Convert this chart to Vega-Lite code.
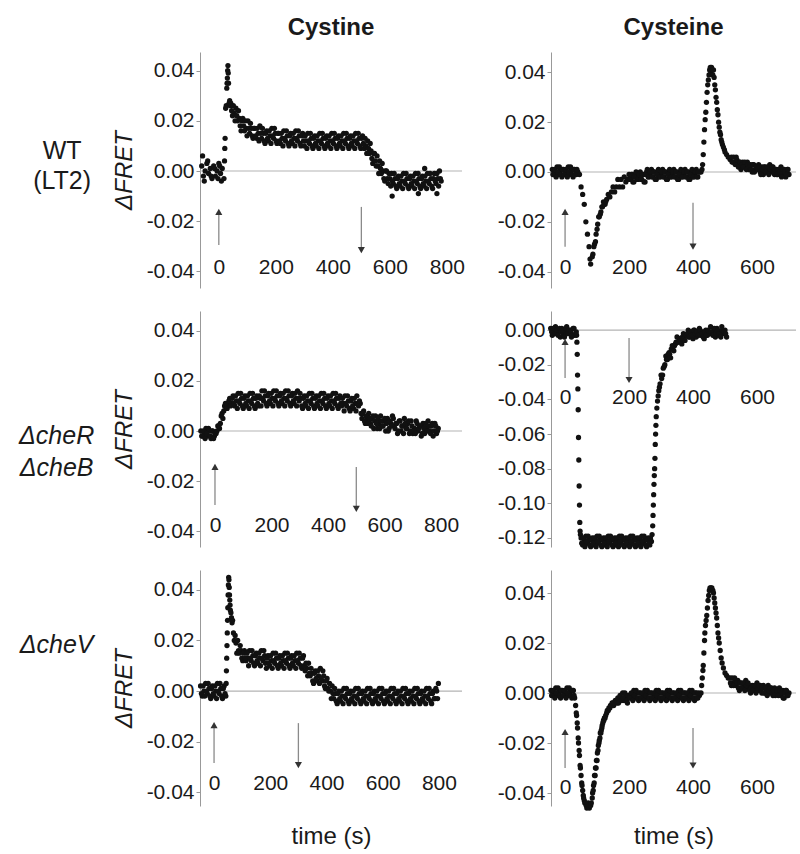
{
"$schema":"https://vega.github.io/schema/vega-lite/v6.json",
"padding":{"top":16,"left":0,"right":4,"bottom":4},
"background":"white",
"config":{
"view":{"stroke":null},
"axis":{"labelFont":"Liberation Sans","labelFontSize":21,"labelColor":"#1a1a1a","titleFont":"Liberation Sans","titleFontSize":24,"titleFontWeight":"normal","titleFontStyle":"italic","titleColor":"#1a1a1a","grid":false,"labelOverlap":false,"tickCount":12},
"title":{"font":"Liberation Sans","fontSize":24,"fontWeight":"bold","color":"#1a1a1a","anchor":"middle","baseline":"alphabetic","offset":12}
},
"datasets":{
"zero":[{"v":0}],
"arr":[
{"p":"A","t":0,"v":-0.0295,"v2":-0.0163,"dir":"up"},{"p":"A","t":500,"v":-0.0143,"v2":-0.0315,"dir":"down"},
{"p":"B","t":0,"v":-0.030,"v2":-0.016,"dir":"up"},{"p":"B","t":400,"v":-0.0124,"v2":-0.030,"dir":"down"},
{"p":"C","t":0,"v":-0.0295,"v2":-0.0143,"dir":"up"},{"p":"C","t":500,"v":-0.0143,"v2":-0.031,"dir":"down"},
{"p":"D","t":0,"v":-0.0277,"v2":-0.0069,"dir":"up"},{"p":"D","t":200,"v":-0.0046,"v2":-0.0288,"dir":"down"},
{"p":"E","t":0,"v":-0.0285,"v2":-0.0135,"dir":"up"},{"p":"E","t":300,"v":-0.0127,"v2":-0.0293,"dir":"down"},
{"p":"F","t":0,"v":-0.030,"v2":-0.0156,"dir":"up"},{"p":"F","t":400,"v":-0.014,"v2":-0.029,"dir":"down"}],
"A":[{"t":-60,"v":0.002},{"t":-57,"v":0.006},{"t":-54,"v":-0.002},{"t":-51,"v":-0.004},{"t":-48,"v":0},{"t":-42,"v":0.003},{"t":-39,"v":0.004},{"t":-36,"v":-0.001},{"t":-30,"v":0.001},{"t":-27,"v":-0.002},{"t":-24,"v":-0.003},{"t":-18,"v":0.002},{"t":-15,"v":0.001},{"t":-12,"v":-0.002},{"t":-6,"v":0},{"t":-3,"v":-0.003},{"t":0,"v":0.003},{"t":3,"v":0.002},{"t":6,"v":-0.001},{"t":9,"v":-0.004},{"t":12,"v":0.001},{"t":18,"v":-0.003},
{"t":20,"v":0.004},{"t":21,"v":0.009},{"t":22,"v":0.013},{"t":24,"v":0.025},{"t":26,"v":0.026},{"t":28,"v":0.033},{"t":29,"v":0.035},{"t":30,"v":0.037},{"t":31,"v":0.04},{"t":32,"v":0.042},{"t":33,"v":0.039},{"t":34,"v":0.035},{"t":36,"v":0.027},{"t":38,"v":0.028},{"t":40,"v":0.026},
{"t":42,"v":0.027},{"t":48,"v":0.022},{"t":54,"v":0.023},{"t":60,"v":0.025},{"t":66,"v":0.02},{"t":72,"v":0.021},{"t":78,"v":0.016},{"t":84,"v":0.021},{"t":90,"v":0.016},{"t":96,"v":0.017},{"t":102,"v":0.02},{"t":108,"v":0.015},{"t":114,"v":0.017},{"t":120,"v":0.013},{"t":126,"v":0.017},{"t":132,"v":0.013},{"t":138,"v":0.015},{"t":144,"v":0.018},{"t":150,"v":0.013},{"t":156,"v":0.015},{"t":162,"v":0.011},{"t":168,"v":0.016},{"t":174,"v":0.012},{"t":180,"v":0.014},{"t":186,"v":0.017},{"t":192,"v":0.013},{"t":198,"v":0.015},{"t":204,"v":0.011},{"t":210,"v":0.015},{"t":216,"v":0.011},{"t":222,"v":0.013},{"t":228,"v":0.016},{"t":234,"v":0.012},{"t":240,"v":0.014},{"t":246,"v":0.01},{"t":252,"v":0.015},{"t":258,"v":0.011},{"t":264,"v":0.013},{"t":270,"v":0.016},{"t":276,"v":0.012},{"t":282,"v":0.014},{"t":288,"v":0.01},{"t":294,"v":0.015},{"t":300,"v":0.01},{"t":306,"v":0.012},{"t":312,"v":0.015},{"t":318,"v":0.011},{"t":324,"v":0.013},{"t":330,"v":0.009},{"t":336,"v":0.014},{"t":342,"v":0.01},{"t":348,"v":0.012},{"t":354,"v":0.015},{"t":360,"v":0.011},{"t":366,"v":0.013},{"t":372,"v":0.009},{"t":378,"v":0.014},{"t":384,"v":0.01},{"t":390,"v":0.012},{"t":396,"v":0.015},{"t":402,"v":0.011},{"t":408,"v":0.013},{"t":414,"v":0.009},{"t":420,"v":0.014},{"t":426,"v":0.01},{"t":432,"v":0.012},{"t":438,"v":0.015},{"t":444,"v":0.011},{"t":450,"v":0.013},{"t":456,"v":0.009},{"t":462,"v":0.014},{"t":468,"v":0.01},{"t":474,"v":0.012},{"t":480,"v":0.015},{"t":486,"v":0.011},{"t":492,"v":0.013},{"t":498,"v":0.009},{"t":504,"v":0.014},{"t":510,"v":0.009},{"t":516,"v":0.01},{"t":522,"v":0.012},{"t":528,"v":0.007},{"t":534,"v":0.008},{"t":540,"v":0.003},{"t":546,"v":0.007},{"t":552,"v":0.002},{"t":558,"v":0.002},{"t":564,"v":0.004},{"t":570,"v":-0.001},{"t":576,"v":0},{"t":582,"v":-0.004},{"t":588,"v":0},{"t":594,"v":-0.005},{"t":600,"v":-0.003},{"t":606,"v":-0.001},{"t":608,"v":-0.01},{"t":612,"v":-0.005},{"t":618,"v":-0.003},{"t":624,"v":-0.007},{"t":630,"v":-0.002},{"t":636,"v":-0.006},{"t":642,"v":-0.004},{"t":648,"v":-0.001},{"t":654,"v":-0.005},{"t":660,"v":-0.003},{"t":666,"v":-0.007},{"t":672,"v":-0.002},{"t":678,"v":-0.006},{"t":684,"v":-0.004},{"t":690,"v":-0.001},{"t":696,"v":-0.005},{"t":700,"v":-0.009},{"t":702,"v":-0.003},{"t":708,"v":-0.007},{"t":714,"v":-0.002},{"t":720,"v":-0.006},{"t":722,"v":0.001},{"t":726,"v":-0.004},{"t":732,"v":-0.001},{"t":738,"v":-0.005},{"t":744,"v":-0.003},{"t":750,"v":-0.007},{"t":756,"v":-0.001},{"t":762,"v":-0.005},{"t":765,"v":-0.009},{"t":768,"v":-0.003},{"t":774,"v":0},{"t":780,"v":-0.004},
{"t":45,"v":0.024},{"t":51,"v":0.026},{"t":57,"v":0.02},{"t":63,"v":0.022},{"t":69,"v":0.024},{"t":75,"v":0.018},{"t":81,"v":0.02},{"t":87,"v":0.018},{"t":93,"v":0.02},{"t":99,"v":0.014},{"t":105,"v":0.017},{"t":111,"v":0.019},{"t":117,"v":0.014},{"t":123,"v":0.017},{"t":129,"v":0.014},{"t":135,"v":0.017},{"t":141,"v":0.012},{"t":147,"v":0.015},{"t":153,"v":0.017},{"t":159,"v":0.012},{"t":165,"v":0.015},{"t":171,"v":0.013},{"t":177,"v":0.016},{"t":183,"v":0.011},{"t":189,"v":0.014},{"t":195,"v":0.017},{"t":201,"v":0.012},{"t":207,"v":0.015},{"t":213,"v":0.012},{"t":219,"v":0.015},{"t":225,"v":0.01},{"t":231,"v":0.013},{"t":237,"v":0.016},{"t":243,"v":0.011},{"t":249,"v":0.014},{"t":255,"v":0.012},{"t":261,"v":0.015},{"t":267,"v":0.01},{"t":273,"v":0.013},{"t":279,"v":0.016},{"t":285,"v":0.011},{"t":291,"v":0.014},{"t":297,"v":0.012},{"t":303,"v":0.014},{"t":309,"v":0.009},{"t":315,"v":0.012},{"t":321,"v":0.015},{"t":327,"v":0.01},{"t":333,"v":0.013},{"t":339,"v":0.011},{"t":345,"v":0.014},{"t":351,"v":0.009},{"t":357,"v":0.012},{"t":363,"v":0.015},{"t":369,"v":0.01},{"t":375,"v":0.013},{"t":381,"v":0.011},{"t":387,"v":0.014},{"t":393,"v":0.009},{"t":399,"v":0.012},{"t":405,"v":0.015},{"t":411,"v":0.01},{"t":417,"v":0.013},{"t":423,"v":0.011},{"t":429,"v":0.014},{"t":435,"v":0.009},{"t":441,"v":0.012},{"t":447,"v":0.015},{"t":453,"v":0.01},{"t":459,"v":0.013},{"t":465,"v":0.011},{"t":471,"v":0.014},{"t":477,"v":0.009},{"t":483,"v":0.012},{"t":489,"v":0.015},{"t":495,"v":0.01},{"t":501,"v":0.013},{"t":507,"v":0.011},{"t":513,"v":0.013},{"t":519,"v":0.007},{"t":525,"v":0.009},{"t":531,"v":0.011},{"t":537,"v":0.005},{"t":543,"v":0.007},{"t":549,"v":0.004},{"t":555,"v":0.006},{"t":561,"v":-0.001},{"t":567,"v":0.001},{"t":573,"v":0.003},{"t":579,"v":-0.003},{"t":585,"v":0},{"t":591,"v":-0.003},{"t":597,"v":-0.001},{"t":603,"v":-0.006},{"t":609,"v":-0.004},{"t":615,"v":-0.001},{"t":621,"v":-0.006},{"t":627,"v":-0.003},{"t":633,"v":-0.005},{"t":639,"v":-0.002},{"t":645,"v":-0.007},{"t":651,"v":-0.004},{"t":657,"v":-0.001},{"t":663,"v":-0.006},{"t":669,"v":-0.003},{"t":675,"v":-0.005},{"t":681,"v":-0.002},{"t":687,"v":-0.007},{"t":693,"v":-0.004},{"t":699,"v":-0.001},{"t":705,"v":-0.006},{"t":711,"v":-0.003},{"t":717,"v":-0.005},{"t":723,"v":-0.002},{"t":729,"v":-0.007},{"t":735,"v":-0.004},{"t":741,"v":-0.001},{"t":747,"v":-0.006},{"t":753,"v":-0.003},{"t":759,"v":-0.004},{"t":765,"v":-0.001},{"t":771,"v":-0.006},{"t":777,"v":-0.003}],
"B":[{"t":-40,"v":0.001},{"t":-35,"v":-0.001},{"t":-30,"v":0},{"t":-25,"v":0.002},{"t":-20,"v":-0.001},{"t":-15,"v":0.001},{"t":-10,"v":-0.002},{"t":-5,"v":0.001},{"t":0,"v":-0.001},{"t":5,"v":0},{"t":10,"v":0.002},{"t":15,"v":-0.001},{"t":20,"v":0.001},{"t":25,"v":-0.002},{"t":30,"v":0.001},{"t":35,"v":-0.001},{"t":40,"v":0},{"t":45,"v":-0.001},{"t":50,"v":-0.006},{"t":55,"v":-0.009},{"t":60,"v":-0.013},{"t":65,"v":-0.02},{"t":70,"v":-0.025},{"t":75,"v":-0.03},{"t":78,"v":-0.035},{"t":80,"v":-0.037},{"t":85,"v":-0.034},{"t":87,"v":-0.033},{"t":90,"v":-0.03},{"t":92,"v":-0.029},{"t":95,"v":-0.028},{"t":97,"v":-0.025},{"t":100,"v":-0.023},{"t":102,"v":-0.021},{"t":105,"v":-0.018},{"t":107,"v":-0.018},{"t":110,"v":-0.017},{"t":112,"v":-0.016},{"t":115,"v":-0.014},{"t":117,"v":-0.014},{"t":120,"v":-0.012},{"t":122,"v":-0.013},{"t":125,"v":-0.013},{"t":127,"v":-0.012},{"t":130,"v":-0.011},{"t":135,"v":-0.009},{"t":140,"v":-0.01},{"t":145,"v":-0.008},{"t":150,"v":-0.006},{"t":155,"v":-0.008},{"t":160,"v":-0.006},{"t":165,"v":-0.003},{"t":170,"v":-0.006},{"t":175,"v":-0.003},{"t":180,"v":-0.006},{"t":185,"v":-0.002},{"t":190,"v":-0.004},{"t":195,"v":-0.003},{"t":200,"v":-0.001},{"t":205,"v":-0.003},{"t":210,"v":-0.001},{"t":215,"v":-0.004},{"t":220,"v":-0.001},{"t":225,"v":-0.003},{"t":230,"v":-0.002},{"t":235,"v":0},{"t":240,"v":-0.003},{"t":245,"v":-0.001},{"t":250,"v":-0.004},{"t":255,"v":0},{"t":260,"v":-0.002},{"t":265,"v":-0.001},{"t":270,"v":0.001},{"t":275,"v":-0.002},{"t":280,"v":0},{"t":285,"v":-0.003},{"t":290,"v":0},{"t":295,"v":-0.002},{"t":300,"v":-0.001},{"t":305,"v":0.001},{"t":310,"v":-0.002},{"t":315,"v":0},{"t":320,"v":-0.003},{"t":325,"v":0},{"t":330,"v":-0.002},{"t":335,"v":-0.001},{"t":340,"v":0.001},{"t":345,"v":-0.002},{"t":350,"v":0},{"t":355,"v":-0.003},{"t":360,"v":0},{"t":365,"v":-0.002},{"t":370,"v":-0.001},{"t":375,"v":0.001},{"t":380,"v":-0.002},{"t":385,"v":0},{"t":390,"v":-0.003},{"t":395,"v":0},{"t":400,"v":-0.002},{"t":405,"v":-0.001},{"t":410,"v":0.001},{"t":415,"v":-0.002},{"t":420,"v":0},{"t":425,"v":0},{"t":428,"v":0.001},{"t":430,"v":0.003},{"t":432,"v":0.007},{"t":434,"v":0.012},{"t":436,"v":0.017},{"t":438,"v":0.021},{"t":440,"v":0.024},{"t":442,"v":0.028},{"t":444,"v":0.032},{"t":446,"v":0.035},{"t":448,"v":0.037},{"t":450,"v":0.039},{"t":452,"v":0.041},{"t":454,"v":0.042},{"t":456,"v":0.04},{"t":458,"v":0.042},{"t":460,"v":0.041},{"t":462,"v":0.039},{"t":464,"v":0.041},{"t":466,"v":0.038},{"t":468,"v":0.035},{"t":470,"v":0.033},{"t":472,"v":0.03},{"t":474,"v":0.028},{"t":476,"v":0.025},{"t":478,"v":0.023},{"t":480,"v":0.02},{"t":482,"v":0.018},{"t":484,"v":0.016},{"t":486,"v":0.015},{"t":488,"v":0.013},{"t":490,"v":0.012},{"t":492,"v":0.011},{"t":495,"v":0.01},{"t":498,"v":0.009},{"t":500,"v":0.008},{"t":505,"v":0.007},{"t":510,"v":0.006},{"t":516,"v":0.005},{"t":520,"v":0.006},{"t":525,"v":0.004},{"t":530,"v":0.004},{"t":535,"v":0.006},{"t":540,"v":0.003},{"t":545,"v":0.004},{"t":550,"v":0.001},{"t":555,"v":0.004},{"t":560,"v":0.002},{"t":565,"v":0.003},{"t":570,"v":0.004},{"t":575,"v":0.001},{"t":580,"v":0.003},{"t":585,"v":0},{"t":590,"v":0.003},{"t":595,"v":0.001},{"t":600,"v":0.002},{"t":605,"v":0.003},{"t":610,"v":0},{"t":615,"v":0.002},{"t":620,"v":-0.001},{"t":625,"v":0.002},{"t":630,"v":0},{"t":635,"v":0.001},{"t":640,"v":0.003},{"t":645,"v":0},{"t":650,"v":0.002},{"t":655,"v":-0.001},{"t":660,"v":0.001},{"t":665,"v":-0.001},{"t":670,"v":0},{"t":675,"v":0.002},{"t":680,"v":-0.001},{"t":685,"v":0.001},{"t":690,"v":-0.002},{"t":695,"v":0.001},{"t":700,"v":-0.001},
{"t":-38,"v":-0.001},{"t":-33,"v":0.001},{"t":-28,"v":-0.002},{"t":-23,"v":0},{"t":-18,"v":0.002},{"t":-13,"v":-0.001},{"t":-8,"v":0.001},{"t":-3,"v":-0.001},{"t":2,"v":0.001},{"t":7,"v":-0.002},{"t":12,"v":0},{"t":17,"v":0.002},{"t":22,"v":-0.001},{"t":27,"v":0.001},{"t":32,"v":-0.001},{"t":37,"v":0.001},{"t":202,"v":-0.003},{"t":207,"v":-0.001},{"t":212,"v":-0.004},{"t":217,"v":-0.002},{"t":222,"v":0},{"t":227,"v":-0.003},{"t":232,"v":-0.001},{"t":237,"v":-0.003},{"t":242,"v":-0.001},{"t":247,"v":-0.004},{"t":252,"v":-0.001},{"t":257,"v":0.001},{"t":262,"v":-0.002},{"t":267,"v":0},{"t":272,"v":-0.002},{"t":277,"v":0},{"t":282,"v":-0.003},{"t":287,"v":-0.001},{"t":292,"v":0.001},{"t":297,"v":-0.002},{"t":302,"v":0},{"t":307,"v":-0.002},{"t":312,"v":0},{"t":317,"v":-0.003},{"t":322,"v":-0.001},{"t":327,"v":0.001},{"t":332,"v":-0.002},{"t":337,"v":0},{"t":342,"v":-0.002},{"t":347,"v":0},{"t":352,"v":-0.003},{"t":357,"v":-0.001},{"t":362,"v":0.001},{"t":367,"v":-0.002},{"t":372,"v":0},{"t":377,"v":-0.002},{"t":382,"v":0},{"t":387,"v":-0.003},{"t":392,"v":-0.001},{"t":397,"v":0.001},{"t":402,"v":-0.002},{"t":407,"v":0},{"t":412,"v":-0.002},{"t":417,"v":0},{"t":522,"v":0.004},{"t":527,"v":0.006},{"t":532,"v":0.003},{"t":537,"v":0.005},{"t":542,"v":0.002},{"t":547,"v":0.004},{"t":552,"v":0.003},{"t":557,"v":0.002},{"t":562,"v":0.004},{"t":567,"v":0.001},{"t":572,"v":0.003},{"t":577,"v":0.002},{"t":582,"v":0.001},{"t":587,"v":0.003},{"t":592,"v":0},{"t":597,"v":0.002},{"t":602,"v":0.001},{"t":607,"v":0.002},{"t":612,"v":-0.001},{"t":617,"v":0.001},{"t":622,"v":0.002},{"t":627,"v":0},{"t":632,"v":0.002},{"t":637,"v":-0.001},{"t":642,"v":0.001},{"t":647,"v":0.002},{"t":652,"v":0},{"t":657,"v":0.001},{"t":662,"v":-0.001},{"t":667,"v":0.001},{"t":672,"v":0},{"t":677,"v":-0.002},{"t":682,"v":0.001},{"t":687,"v":0},{"t":692,"v":-0.001},{"t":697,"v":0.001}],
"C":[{"t":-50,"v":0},{"t":-44,"v":-0.002},{"t":-38,"v":-0.001},{"t":-32,"v":0.001},{"t":-26,"v":-0.002},{"t":-20,"v":0},{"t":-14,"v":-0.003},{"t":-8,"v":0},{"t":-2,"v":-0.002},{"t":4,"v":-0.001},{"t":10,"v":0.002},{"t":16,"v":0.001},{"t":22,"v":0.006},{"t":28,"v":0.005},{"t":34,"v":0.01},{"t":40,"v":0.009},{"t":46,"v":0.011},{"t":52,"v":0.013},{"t":58,"v":0.011},{"t":64,"v":0.014},{"t":70,"v":0.01},{"t":76,"v":0.012},{"t":82,"v":0.015},{"t":88,"v":0.011},{"t":94,"v":0.013},{"t":100,"v":0.009},{"t":106,"v":0.014},{"t":112,"v":0.01},{"t":118,"v":0.012},{"t":124,"v":0.015},{"t":130,"v":0.011},{"t":136,"v":0.013},{"t":142,"v":0.009},{"t":148,"v":0.014},{"t":154,"v":0.01},{"t":160,"v":0.013},{"t":166,"v":0.016},{"t":172,"v":0.012},{"t":178,"v":0.014},{"t":184,"v":0.01},{"t":190,"v":0.015},{"t":196,"v":0.011},{"t":202,"v":0.013},{"t":208,"v":0.016},{"t":214,"v":0.012},{"t":220,"v":0.014},{"t":226,"v":0.01},{"t":232,"v":0.015},{"t":238,"v":0.011},{"t":244,"v":0.013},{"t":250,"v":0.016},{"t":256,"v":0.012},{"t":262,"v":0.014},{"t":268,"v":0.01},{"t":274,"v":0.015},{"t":280,"v":0.011},{"t":286,"v":0.013},{"t":292,"v":0.016},{"t":298,"v":0.012},{"t":304,"v":0.013},{"t":310,"v":0.009},{"t":316,"v":0.014},{"t":322,"v":0.01},{"t":328,"v":0.012},{"t":334,"v":0.015},{"t":340,"v":0.011},{"t":346,"v":0.013},{"t":352,"v":0.009},{"t":358,"v":0.014},{"t":364,"v":0.01},{"t":370,"v":0.012},{"t":376,"v":0.015},{"t":382,"v":0.011},{"t":388,"v":0.013},{"t":394,"v":0.009},{"t":400,"v":0.014},{"t":406,"v":0.01},{"t":412,"v":0.012},{"t":418,"v":0.015},{"t":424,"v":0.011},{"t":430,"v":0.013},{"t":436,"v":0.009},{"t":442,"v":0.014},{"t":448,"v":0.01},{"t":454,"v":0.011},{"t":460,"v":0.014},{"t":466,"v":0.01},{"t":472,"v":0.012},{"t":478,"v":0.008},{"t":484,"v":0.013},{"t":490,"v":0.009},{"t":496,"v":0.011},{"t":502,"v":0.014},{"t":508,"v":0.01},{"t":514,"v":0.011},{"t":520,"v":0.005},{"t":526,"v":0.008},{"t":532,"v":0.003},{"t":538,"v":0.005},{"t":544,"v":0.007},{"t":550,"v":0.003},{"t":556,"v":0.005},{"t":562,"v":0.001},{"t":568,"v":0.006},{"t":574,"v":0.001},{"t":580,"v":0.003},{"t":586,"v":0.006},{"t":592,"v":0.002},{"t":598,"v":0.004},{"t":604,"v":0},{"t":610,"v":0.005},{"t":616,"v":0.001},{"t":622,"v":0.003},{"t":628,"v":0.006},{"t":634,"v":0.002},{"t":640,"v":0.003},{"t":646,"v":-0.001},{"t":652,"v":0.004},{"t":658,"v":0},{"t":664,"v":0.002},{"t":670,"v":0.005},{"t":676,"v":0.001},{"t":682,"v":0.003},{"t":688,"v":-0.001},{"t":694,"v":0.004},{"t":700,"v":-0.001},{"t":706,"v":0.001},{"t":712,"v":0.004},{"t":718,"v":0},{"t":724,"v":0.002},{"t":730,"v":-0.002},{"t":736,"v":0.003},{"t":742,"v":-0.001},{"t":748,"v":0.001},{"t":754,"v":0.004},{"t":760,"v":0},{"t":766,"v":0.002},{"t":772,"v":-0.002},{"t":778,"v":0.003},{"t":784,"v":-0.001},{"t":790,"v":0.001},
{"t":-47,"v":-0.002},{"t":-41,"v":0},{"t":-35,"v":-0.003},{"t":-29,"v":-0.001},{"t":-23,"v":0.001},{"t":-17,"v":-0.002},{"t":-11,"v":0},{"t":-5,"v":-0.003},{"t":1,"v":-0.001},{"t":7,"v":0},{"t":13,"v":0.002},{"t":19,"v":0.003},{"t":25,"v":0.007},{"t":31,"v":0.008},{"t":37,"v":0.011},{"t":43,"v":0.009},{"t":49,"v":0.012},{"t":55,"v":0.01},{"t":61,"v":0.013},{"t":67,"v":0.011},{"t":73,"v":0.014},{"t":79,"v":0.009},{"t":85,"v":0.012},{"t":91,"v":0.015},{"t":97,"v":0.01},{"t":103,"v":0.013},{"t":109,"v":0.011},{"t":115,"v":0.014},{"t":121,"v":0.009},{"t":127,"v":0.012},{"t":133,"v":0.015},{"t":139,"v":0.01},{"t":145,"v":0.013},{"t":151,"v":0.011},{"t":157,"v":0.014},{"t":163,"v":0.01},{"t":169,"v":0.013},{"t":175,"v":0.016},{"t":181,"v":0.011},{"t":187,"v":0.014},{"t":193,"v":0.012},{"t":199,"v":0.015},{"t":205,"v":0.01},{"t":211,"v":0.013},{"t":217,"v":0.016},{"t":223,"v":0.011},{"t":229,"v":0.014},{"t":235,"v":0.012},{"t":241,"v":0.015},{"t":247,"v":0.01},{"t":253,"v":0.013},{"t":259,"v":0.016},{"t":265,"v":0.011},{"t":271,"v":0.014},{"t":277,"v":0.012},{"t":283,"v":0.015},{"t":289,"v":0.01},{"t":295,"v":0.013},{"t":301,"v":0.015},{"t":307,"v":0.01},{"t":313,"v":0.013},{"t":319,"v":0.011},{"t":325,"v":0.014},{"t":331,"v":0.009},{"t":337,"v":0.012},{"t":343,"v":0.015},{"t":349,"v":0.01},{"t":355,"v":0.013},{"t":361,"v":0.011},{"t":367,"v":0.014},{"t":373,"v":0.009},{"t":379,"v":0.012},{"t":385,"v":0.015},{"t":391,"v":0.01},{"t":397,"v":0.013},{"t":403,"v":0.011},{"t":409,"v":0.014},{"t":415,"v":0.009},{"t":421,"v":0.012},{"t":427,"v":0.015},{"t":433,"v":0.01},{"t":439,"v":0.013},{"t":445,"v":0.011},{"t":451,"v":0.013},{"t":457,"v":0.008},{"t":463,"v":0.011},{"t":469,"v":0.014},{"t":475,"v":0.009},{"t":481,"v":0.012},{"t":487,"v":0.01},{"t":493,"v":0.013},{"t":499,"v":0.008},{"t":505,"v":0.011},{"t":511,"v":0.012},{"t":517,"v":0.007},{"t":523,"v":0.007},{"t":529,"v":0.004},{"t":535,"v":0.006},{"t":541,"v":0.003},{"t":547,"v":0.005},{"t":553,"v":0.002},{"t":559,"v":0.006},{"t":565,"v":0.004},{"t":571,"v":0.003},{"t":577,"v":0.005},{"t":583,"v":0.001},{"t":589,"v":0.004},{"t":595,"v":0.002},{"t":601,"v":0.005},{"t":607,"v":0.003},{"t":613,"v":0},{"t":619,"v":0.004},{"t":625,"v":0.002},{"t":631,"v":0.005},{"t":637,"v":0.001},{"t":643,"v":0.003},{"t":649,"v":0},{"t":655,"v":0.004},{"t":661,"v":0.002},{"t":667,"v":-0.001},{"t":673,"v":0.003},{"t":679,"v":0.001},{"t":685,"v":0.004},{"t":691,"v":0},{"t":697,"v":0.002},{"t":703,"v":0},{"t":709,"v":-0.001},{"t":715,"v":0.003},{"t":721,"v":0.001},{"t":727,"v":0.002},{"t":733,"v":-0.001},{"t":739,"v":0.001},{"t":745,"v":0.003},{"t":751,"v":0},{"t":757,"v":0.002},{"t":763,"v":-0.001},{"t":769,"v":0.003},{"t":775,"v":0},{"t":781,"v":0.002},{"t":787,"v":0}],
"D":[{"t":-45,"v":0.001},{"t":-40,"v":-0.003},{"t":-35,"v":-0.001},{"t":-30,"v":0.002},{"t":-25,"v":-0.002},{"t":-20,"v":0},{"t":-15,"v":-0.004},{"t":-10,"v":0.001},{"t":-5,"v":-0.003},{"t":0,"v":-0.001},{"t":5,"v":0.002},{"t":10,"v":-0.002},{"t":15,"v":0},{"t":20,"v":-0.004},{"t":25,"v":0.001},{"t":30,"v":-0.003},{"t":35,"v":-0.001},{"t":36,"v":-0.003},{"t":37,"v":-0.007},{"t":38,"v":-0.014},{"t":39,"v":-0.026},{"t":40,"v":-0.034},{"t":41,"v":-0.046},{"t":42,"v":-0.062},{"t":43,"v":-0.075},{"t":44,"v":-0.09},{"t":45,"v":-0.101},{"t":46,"v":-0.111},{"t":47,"v":-0.116},{"t":48,"v":-0.118},{"t":50,"v":-0.12},{"t":55,"v":-0.124},{"t":60,"v":-0.122},{"t":65,"v":-0.119},{"t":70,"v":-0.123},{"t":75,"v":-0.121},{"t":80,"v":-0.125},{"t":85,"v":-0.12},{"t":90,"v":-0.124},{"t":95,"v":-0.122},{"t":100,"v":-0.119},{"t":105,"v":-0.123},{"t":110,"v":-0.121},{"t":115,"v":-0.125},{"t":120,"v":-0.12},{"t":125,"v":-0.124},{"t":130,"v":-0.122},{"t":135,"v":-0.119},{"t":140,"v":-0.123},{"t":145,"v":-0.121},{"t":150,"v":-0.125},{"t":155,"v":-0.12},{"t":160,"v":-0.124},{"t":165,"v":-0.122},{"t":170,"v":-0.119},{"t":175,"v":-0.123},{"t":180,"v":-0.121},{"t":185,"v":-0.125},{"t":190,"v":-0.12},{"t":195,"v":-0.124},{"t":200,"v":-0.122},{"t":205,"v":-0.119},{"t":210,"v":-0.123},{"t":215,"v":-0.121},{"t":220,"v":-0.125},{"t":225,"v":-0.12},{"t":230,"v":-0.124},{"t":235,"v":-0.122},{"t":240,"v":-0.119},{"t":245,"v":-0.123},{"t":250,"v":-0.121},{"t":255,"v":-0.125},{"t":260,"v":-0.12},{"t":265,"v":-0.124},{"t":270,"v":-0.122},{"t":272,"v":-0.118},{"t":274,"v":-0.113},{"t":275,"v":-0.107},{"t":276,"v":-0.101},{"t":277,"v":-0.095},{"t":278,"v":-0.089},{"t":279,"v":-0.084},{"t":280,"v":-0.08},{"t":281,"v":-0.074},{"t":282,"v":-0.066},{"t":283,"v":-0.06},{"t":284,"v":-0.055},{"t":285,"v":-0.05},{"t":287,"v":-0.045},{"t":289,"v":-0.041},{"t":291,"v":-0.038},{"t":293,"v":-0.035},{"t":295,"v":-0.033},{"t":297,"v":-0.031},{"t":300,"v":-0.026},{"t":302,"v":-0.028},{"t":305,"v":-0.026},{"t":307,"v":-0.022},{"t":310,"v":-0.021},{"t":312,"v":-0.02},{"t":315,"v":-0.015},{"t":317,"v":-0.017},{"t":320,"v":-0.017},{"t":322,"v":-0.014},{"t":325,"v":-0.013},{"t":327,"v":-0.014},{"t":330,"v":-0.016},{"t":332,"v":-0.011},{"t":335,"v":-0.009},{"t":337,"v":-0.011},{"t":340,"v":-0.012},{"t":342,"v":-0.009},{"t":345,"v":-0.008},{"t":347,"v":-0.007},{"t":350,"v":-0.004},{"t":352,"v":-0.007},{"t":355,"v":-0.007},{"t":357,"v":-0.005},{"t":360,"v":-0.005},{"t":362,"v":-0.006},{"t":365,"v":-0.008},{"t":367,"v":-0.004},{"t":370,"v":-0.002},{"t":372,"v":-0.005},{"t":375,"v":-0.006},{"t":380,"v":-0.003},{"t":385,"v":0},{"t":390,"v":-0.004},{"t":395,"v":-0.001},{"t":400,"v":-0.005},{"t":405,"v":0},{"t":410,"v":-0.004},{"t":415,"v":-0.002},{"t":420,"v":0.001},{"t":425,"v":-0.003},{"t":430,"v":-0.001},{"t":435,"v":-0.005},{"t":440,"v":0},{"t":445,"v":-0.003},{"t":450,"v":-0.001},{"t":455,"v":0.002},{"t":460,"v":-0.002},{"t":465,"v":0},{"t":470,"v":-0.004},{"t":475,"v":0.001},{"t":480,"v":-0.003},{"t":485,"v":-0.001},{"t":490,"v":0.002},{"t":495,"v":-0.002},{"t":500,"v":0},{"t":505,"v":-0.004},
{"t":-42,"v":-0.001},{"t":-37,"v":0.001},{"t":-32,"v":-0.002},{"t":-27,"v":0},{"t":-22,"v":-0.003},{"t":-17,"v":0.001},{"t":-12,"v":-0.001},{"t":-7,"v":0},{"t":-2,"v":-0.004},{"t":3,"v":0.001},{"t":8,"v":-0.002},{"t":13,"v":0},{"t":18,"v":-0.001},{"t":23,"v":-0.003},{"t":28,"v":0.001},{"t":33,"v":-0.002},{"t":52,"v":-0.123},{"t":57,"v":-0.12},{"t":62,"v":-0.125},{"t":67,"v":-0.122},{"t":72,"v":-0.119},{"t":77,"v":-0.124},{"t":82,"v":-0.121},{"t":87,"v":-0.123},{"t":92,"v":-0.12},{"t":97,"v":-0.125},{"t":102,"v":-0.122},{"t":107,"v":-0.119},{"t":112,"v":-0.124},{"t":117,"v":-0.121},{"t":122,"v":-0.123},{"t":127,"v":-0.12},{"t":132,"v":-0.125},{"t":137,"v":-0.122},{"t":142,"v":-0.119},{"t":147,"v":-0.124},{"t":152,"v":-0.121},{"t":157,"v":-0.123},{"t":162,"v":-0.12},{"t":167,"v":-0.125},{"t":172,"v":-0.122},{"t":177,"v":-0.119},{"t":182,"v":-0.124},{"t":187,"v":-0.121},{"t":192,"v":-0.123},{"t":197,"v":-0.12},{"t":202,"v":-0.125},{"t":207,"v":-0.122},{"t":212,"v":-0.119},{"t":217,"v":-0.124},{"t":222,"v":-0.121},{"t":227,"v":-0.123},{"t":232,"v":-0.12},{"t":237,"v":-0.125},{"t":242,"v":-0.122},{"t":247,"v":-0.119},{"t":252,"v":-0.124},{"t":257,"v":-0.121},{"t":262,"v":-0.123},{"t":267,"v":-0.12},{"t":382,"v":-0.002},{"t":387,"v":-0.004},{"t":392,"v":-0.001},{"t":397,"v":-0.003},{"t":402,"v":0},{"t":407,"v":-0.002},{"t":412,"v":-0.001},{"t":417,"v":-0.003},{"t":422,"v":0},{"t":427,"v":-0.002},{"t":432,"v":-0.004},{"t":437,"v":-0.001},{"t":442,"v":-0.003},{"t":447,"v":0},{"t":452,"v":-0.002},{"t":457,"v":-0.001},{"t":462,"v":-0.003},{"t":467,"v":0.001},{"t":472,"v":-0.002},{"t":477,"v":0},{"t":482,"v":-0.002},{"t":487,"v":-0.004},{"t":492,"v":0},{"t":497,"v":-0.001},{"t":502,"v":-0.002}],
"E":[{"t":-48,"v":0.002},{"t":-42,"v":-0.002},{"t":-36,"v":0},{"t":-30,"v":0.003},{"t":-24,"v":-0.001},{"t":-18,"v":0.001},{"t":-12,"v":-0.003},{"t":-6,"v":0.002},{"t":0,"v":-0.002},{"t":6,"v":0},{"t":12,"v":0.003},{"t":18,"v":-0.001},{"t":24,"v":0.001},{"t":30,"v":-0.003},{"t":36,"v":0.002},{"t":42,"v":-0.002},{"t":43,"v":0.003},{"t":44,"v":0.008},{"t":45,"v":0.013},{"t":46,"v":0.018},{"t":47,"v":0.023},{"t":48,"v":0.028},{"t":49,"v":0.033},{"t":50,"v":0.038},{"t":51,"v":0.042},{"t":52,"v":0.045},{"t":53,"v":0.044},{"t":54,"v":0.041},{"t":55,"v":0.038},{"t":56,"v":0.036},{"t":57,"v":0.034},{"t":58,"v":0.032},{"t":60,"v":0.031},{"t":62,"v":0.029},{"t":64,"v":0.027},{"t":66,"v":0.028},{"t":72,"v":0.02},{"t":78,"v":0.019},{"t":84,"v":0.02},{"t":90,"v":0.015},{"t":96,"v":0.016},{"t":102,"v":0.012},{"t":108,"v":0.016},{"t":114,"v":0.012},{"t":120,"v":0.013},{"t":126,"v":0.016},{"t":132,"v":0.012},{"t":138,"v":0.014},{"t":144,"v":0.01},{"t":150,"v":0.015},{"t":156,"v":0.011},{"t":162,"v":0.013},{"t":168,"v":0.016},{"t":174,"v":0.012},{"t":180,"v":0.014},{"t":186,"v":0.009},{"t":192,"v":0.014},{"t":198,"v":0.01},{"t":204,"v":0.012},{"t":210,"v":0.015},{"t":216,"v":0.011},{"t":222,"v":0.013},{"t":228,"v":0.009},{"t":234,"v":0.014},{"t":240,"v":0.01},{"t":246,"v":0.012},{"t":252,"v":0.015},{"t":258,"v":0.011},{"t":264,"v":0.013},{"t":270,"v":0.009},{"t":276,"v":0.014},{"t":282,"v":0.01},{"t":288,"v":0.012},{"t":294,"v":0.015},{"t":300,"v":0.011},{"t":306,"v":0.013},{"t":312,"v":0.009},{"t":318,"v":0.014},{"t":324,"v":0.008},{"t":330,"v":0.009},{"t":336,"v":0.011},{"t":342,"v":0.006},{"t":348,"v":0.007},{"t":354,"v":0.003},{"t":360,"v":0.008},{"t":366,"v":0.004},{"t":372,"v":0.006},{"t":378,"v":0.009},{"t":384,"v":0.004},{"t":390,"v":0.006},{"t":396,"v":0.001},{"t":402,"v":0.005},{"t":408,"v":0},{"t":414,"v":0},{"t":420,"v":0.002},{"t":426,"v":-0.003},{"t":432,"v":-0.001},{"t":438,"v":-0.005},{"t":444,"v":0},{"t":450,"v":-0.004},{"t":456,"v":-0.002},{"t":462,"v":0.001},{"t":468,"v":-0.003},{"t":474,"v":-0.001},{"t":480,"v":-0.005},{"t":486,"v":0},{"t":492,"v":-0.004},{"t":498,"v":-0.002},{"t":504,"v":0.001},{"t":510,"v":-0.003},{"t":516,"v":-0.001},{"t":522,"v":-0.005},{"t":528,"v":0},{"t":534,"v":-0.004},{"t":540,"v":-0.002},{"t":546,"v":0.001},{"t":552,"v":-0.003},{"t":558,"v":-0.001},{"t":564,"v":-0.005},{"t":570,"v":0},{"t":576,"v":-0.004},{"t":582,"v":-0.002},{"t":588,"v":0.001},{"t":594,"v":-0.003},{"t":600,"v":-0.001},{"t":606,"v":-0.005},{"t":612,"v":0},{"t":618,"v":-0.004},{"t":624,"v":-0.002},{"t":630,"v":0.001},{"t":636,"v":-0.003},{"t":642,"v":-0.001},{"t":648,"v":-0.005},{"t":654,"v":0},{"t":660,"v":-0.004},{"t":666,"v":-0.002},{"t":672,"v":0.001},{"t":678,"v":-0.003},{"t":684,"v":-0.001},{"t":690,"v":-0.005},{"t":696,"v":0},{"t":702,"v":-0.004},{"t":708,"v":-0.002},{"t":714,"v":0.001},{"t":720,"v":-0.003},{"t":726,"v":-0.001},{"t":732,"v":-0.005},{"t":738,"v":0},{"t":744,"v":-0.004},{"t":750,"v":-0.002},{"t":756,"v":0.001},{"t":762,"v":-0.003},{"t":768,"v":-0.001},{"t":774,"v":-0.005},{"t":780,"v":0},{"t":786,"v":-0.003},{"t":792,"v":0},{"t":798,"v":0.003},
{"t":-45,"v":-0.001},{"t":-39,"v":0.002},{"t":-33,"v":-0.002},{"t":-27,"v":0},{"t":-21,"v":0.003},{"t":-15,"v":-0.002},{"t":-9,"v":0.001},{"t":-3,"v":-0.001},{"t":3,"v":0.002},{"t":9,"v":-0.003},{"t":15,"v":0},{"t":21,"v":0.003},{"t":27,"v":-0.002},{"t":33,"v":0.001},{"t":39,"v":-0.001},{"t":69,"v":0.023},{"t":75,"v":0.022},{"t":81,"v":0.015},{"t":87,"v":0.016},{"t":93,"v":0.018},{"t":99,"v":0.013},{"t":105,"v":0.015},{"t":111,"v":0.013},{"t":117,"v":0.015},{"t":123,"v":0.01},{"t":129,"v":0.013},{"t":135,"v":0.016},{"t":141,"v":0.011},{"t":147,"v":0.014},{"t":153,"v":0.012},{"t":159,"v":0.015},{"t":165,"v":0.01},{"t":171,"v":0.013},{"t":177,"v":0.016},{"t":183,"v":0.011},{"t":189,"v":0.013},{"t":195,"v":0.011},{"t":201,"v":0.014},{"t":207,"v":0.009},{"t":213,"v":0.012},{"t":219,"v":0.015},{"t":225,"v":0.01},{"t":231,"v":0.013},{"t":237,"v":0.011},{"t":243,"v":0.014},{"t":249,"v":0.009},{"t":255,"v":0.012},{"t":261,"v":0.015},{"t":267,"v":0.01},{"t":273,"v":0.013},{"t":279,"v":0.011},{"t":285,"v":0.014},{"t":291,"v":0.009},{"t":297,"v":0.012},{"t":303,"v":0.015},{"t":309,"v":0.01},{"t":315,"v":0.013},{"t":321,"v":0.01},{"t":327,"v":0.011},{"t":333,"v":0.006},{"t":339,"v":0.007},{"t":345,"v":0.009},{"t":351,"v":0.004},{"t":357,"v":0.007},{"t":363,"v":0.005},{"t":369,"v":0.008},{"t":375,"v":0.003},{"t":381,"v":0.005},{"t":387,"v":0.008},{"t":393,"v":0.002},{"t":399,"v":0.004},{"t":405,"v":0.001},{"t":411,"v":0.003},{"t":417,"v":-0.003},{"t":423,"v":-0.001},{"t":429,"v":0.001},{"t":435,"v":-0.004},{"t":441,"v":-0.001},{"t":447,"v":-0.003},{"t":453,"v":0},{"t":459,"v":-0.005},{"t":465,"v":-0.002},{"t":471,"v":0.001},{"t":477,"v":-0.004},{"t":483,"v":-0.001},{"t":489,"v":-0.003},{"t":495,"v":0},{"t":501,"v":-0.005},{"t":507,"v":-0.002},{"t":513,"v":0.001},{"t":519,"v":-0.004},{"t":525,"v":-0.001},{"t":531,"v":-0.003},{"t":537,"v":0},{"t":543,"v":-0.005},{"t":549,"v":-0.002},{"t":555,"v":0.001},{"t":561,"v":-0.004},{"t":567,"v":-0.001},{"t":573,"v":-0.003},{"t":579,"v":0},{"t":585,"v":-0.005},{"t":591,"v":-0.002},{"t":597,"v":0.001},{"t":603,"v":-0.004},{"t":609,"v":-0.001},{"t":615,"v":-0.003},{"t":621,"v":0},{"t":627,"v":-0.005},{"t":633,"v":-0.002},{"t":639,"v":0.001},{"t":645,"v":-0.004},{"t":651,"v":-0.001},{"t":657,"v":-0.003},{"t":663,"v":0},{"t":669,"v":-0.005},{"t":675,"v":-0.002},{"t":681,"v":0.001},{"t":687,"v":-0.004},{"t":693,"v":-0.001},{"t":699,"v":-0.003},{"t":705,"v":0},{"t":711,"v":-0.005},{"t":717,"v":-0.002},{"t":723,"v":0.001},{"t":729,"v":-0.004},{"t":735,"v":-0.001},{"t":741,"v":-0.003},{"t":747,"v":0},{"t":753,"v":-0.005},{"t":759,"v":-0.002},{"t":765,"v":0.001},{"t":771,"v":-0.004},{"t":777,"v":-0.001},{"t":783,"v":-0.003},{"t":789,"v":0.001},{"t":795,"v":-0.003}],
"F":[{"t":-44,"v":0.001},{"t":-39,"v":-0.001},{"t":-34,"v":0},{"t":-29,"v":0.002},{"t":-24,"v":-0.001},{"t":-19,"v":0.001},{"t":-14,"v":-0.002},{"t":-9,"v":0.001},{"t":-4,"v":-0.001},{"t":1,"v":0},{"t":6,"v":0.002},{"t":11,"v":-0.001},{"t":16,"v":0.001},{"t":21,"v":-0.002},{"t":26,"v":0.001},{"t":30,"v":-0.002},{"t":33,"v":-0.005},{"t":35,"v":-0.008},{"t":36,"v":-0.009},{"t":38,"v":-0.012},{"t":39,"v":-0.014},{"t":41,"v":-0.018},{"t":42,"v":-0.02},{"t":44,"v":-0.023},{"t":45,"v":-0.025},{"t":47,"v":-0.029},{"t":48,"v":-0.03},{"t":50,"v":-0.033},{"t":52,"v":-0.036},{"t":53,"v":-0.037},{"t":55,"v":-0.039},{"t":57,"v":-0.041},{"t":58,"v":-0.042},{"t":60,"v":-0.043},{"t":62,"v":-0.044},{"t":63,"v":-0.044},{"t":66,"v":-0.045},{"t":68,"v":-0.046},{"t":70,"v":-0.045},{"t":72,"v":-0.044},{"t":74,"v":-0.045},{"t":76,"v":-0.046},{"t":78,"v":-0.045},{"t":80,"v":-0.045},{"t":82,"v":-0.044},{"t":85,"v":-0.042},{"t":86,"v":-0.04},{"t":88,"v":-0.039},{"t":89,"v":-0.037},{"t":91,"v":-0.036},{"t":92,"v":-0.033},{"t":94,"v":-0.033},{"t":95,"v":-0.03},{"t":97,"v":-0.03},{"t":98,"v":-0.027},{"t":100,"v":-0.027},{"t":101,"v":-0.024},{"t":103,"v":-0.023},{"t":104,"v":-0.021},{"t":106,"v":-0.02},{"t":107,"v":-0.019},{"t":109,"v":-0.018},{"t":110,"v":-0.016},{"t":112,"v":-0.016},{"t":113,"v":-0.015},{"t":115,"v":-0.014},{"t":116,"v":-0.013},{"t":118,"v":-0.012},{"t":120,"v":-0.011},{"t":121,"v":-0.011},{"t":123,"v":-0.01},{"t":125,"v":-0.01},{"t":127,"v":-0.009},{"t":130,"v":-0.008},{"t":132,"v":-0.007},{"t":135,"v":-0.007},{"t":137,"v":-0.006},{"t":140,"v":-0.006},{"t":142,"v":-0.005},{"t":145,"v":-0.005},{"t":147,"v":-0.004},{"t":150,"v":-0.004},{"t":152,"v":-0.005},{"t":155,"v":-0.004},{"t":157,"v":-0.003},{"t":160,"v":-0.003},{"t":162,"v":-0.004},{"t":165,"v":-0.002},{"t":170,"v":-0.003},{"t":175,"v":-0.002},{"t":180,"v":0},{"t":185,"v":-0.003},{"t":190,"v":-0.001},{"t":195,"v":-0.004},{"t":200,"v":-0.001},{"t":205,"v":-0.002},{"t":210,"v":-0.001},{"t":215,"v":0.001},{"t":220,"v":-0.002},{"t":225,"v":0},{"t":230,"v":-0.003},{"t":235,"v":0},{"t":240,"v":-0.002},{"t":245,"v":-0.001},{"t":250,"v":0.001},{"t":255,"v":-0.002},{"t":260,"v":0},{"t":265,"v":-0.003},{"t":270,"v":0},{"t":275,"v":-0.002},{"t":280,"v":-0.001},{"t":285,"v":0.001},{"t":290,"v":-0.002},{"t":295,"v":0},{"t":300,"v":-0.003},{"t":305,"v":0},{"t":310,"v":-0.002},{"t":315,"v":-0.001},{"t":320,"v":0.001},{"t":325,"v":-0.002},{"t":330,"v":0},{"t":335,"v":-0.003},{"t":340,"v":0},{"t":345,"v":-0.002},{"t":350,"v":-0.001},{"t":355,"v":0.001},{"t":360,"v":-0.002},{"t":365,"v":0},{"t":370,"v":-0.003},{"t":375,"v":0},{"t":380,"v":-0.002},{"t":385,"v":-0.001},{"t":390,"v":0.001},{"t":395,"v":-0.002},{"t":400,"v":0},{"t":405,"v":-0.003},{"t":410,"v":0},{"t":415,"v":-0.002},{"t":420,"v":-0.001},{"t":425,"v":0},{"t":427,"v":0.003},{"t":429,"v":0.006},{"t":431,"v":0.009},{"t":432,"v":0.011},{"t":434,"v":0.016},{"t":436,"v":0.021},{"t":437,"v":0.024},{"t":439,"v":0.027},{"t":441,"v":0.029},{"t":443,"v":0.031},{"t":445,"v":0.034},{"t":447,"v":0.037},{"t":449,"v":0.039},{"t":451,"v":0.041},{"t":453,"v":0.042},{"t":456,"v":0.042},{"t":459,"v":0.042},{"t":462,"v":0.041},{"t":464,"v":0.04},{"t":466,"v":0.038},{"t":468,"v":0.036},{"t":470,"v":0.034},{"t":472,"v":0.032},{"t":474,"v":0.03},{"t":476,"v":0.027},{"t":478,"v":0.024},{"t":480,"v":0.022},{"t":482,"v":0.02},{"t":485,"v":0.017},{"t":488,"v":0.014},{"t":491,"v":0.012},{"t":495,"v":0.01},{"t":500,"v":0.008},{"t":505,"v":0.007},{"t":510,"v":0.006},{"t":515,"v":0.006},{"t":520,"v":0.003},{"t":525,"v":0.004},{"t":530,"v":0.006},{"t":535,"v":0.003},{"t":540,"v":0.005},{"t":545,"v":0.001},{"t":550,"v":0.004},{"t":555,"v":0.002},{"t":560,"v":0.003},{"t":565,"v":0.005},{"t":570,"v":0.002},{"t":575,"v":0.003},{"t":580,"v":0},{"t":585,"v":0.003},{"t":590,"v":0.001},{"t":595,"v":0.002},{"t":600,"v":0.004},{"t":605,"v":0.001},{"t":610,"v":0.003},{"t":615,"v":0},{"t":620,"v":0.003},{"t":625,"v":0},{"t":630,"v":0.001},{"t":635,"v":0.003},{"t":640,"v":0},{"t":645,"v":0.002},{"t":650,"v":-0.001},{"t":655,"v":0.002},{"t":660,"v":0},{"t":665,"v":0},{"t":670,"v":0.002},{"t":675,"v":-0.001},{"t":680,"v":0.001},{"t":685,"v":-0.002},{"t":690,"v":0.001},{"t":695,"v":-0.001},{"t":700,"v":0},
{"t":-42,"v":-0.001},{"t":-37,"v":0.001},{"t":-32,"v":-0.002},{"t":-27,"v":0},{"t":-22,"v":0.002},{"t":-17,"v":-0.001},{"t":-12,"v":0.001},{"t":-7,"v":-0.001},{"t":-2,"v":0.001},{"t":3,"v":-0.002},{"t":8,"v":0},{"t":13,"v":0.002},{"t":18,"v":-0.001},{"t":23,"v":0.001},{"t":28,"v":-0.001},{"t":167,"v":-0.004},{"t":172,"v":-0.001},{"t":177,"v":-0.003},{"t":182,"v":-0.002},{"t":187,"v":0},{"t":192,"v":-0.003},{"t":197,"v":-0.001},{"t":202,"v":-0.002},{"t":207,"v":0},{"t":212,"v":-0.003},{"t":217,"v":-0.001},{"t":222,"v":0.001},{"t":227,"v":-0.002},{"t":232,"v":0},{"t":237,"v":-0.002},{"t":242,"v":0},{"t":247,"v":-0.003},{"t":252,"v":-0.001},{"t":257,"v":0.001},{"t":262,"v":-0.002},{"t":267,"v":0},{"t":272,"v":-0.002},{"t":277,"v":0},{"t":282,"v":-0.003},{"t":287,"v":-0.001},{"t":292,"v":0.001},{"t":297,"v":-0.002},{"t":302,"v":0},{"t":307,"v":-0.002},{"t":312,"v":0},{"t":317,"v":-0.003},{"t":322,"v":-0.001},{"t":327,"v":0.001},{"t":332,"v":-0.002},{"t":337,"v":0},{"t":342,"v":-0.002},{"t":347,"v":0},{"t":352,"v":-0.003},{"t":357,"v":-0.001},{"t":362,"v":0.001},{"t":367,"v":-0.002},{"t":372,"v":0},{"t":377,"v":-0.002},{"t":382,"v":0},{"t":387,"v":-0.003},{"t":392,"v":-0.001},{"t":397,"v":0.001},{"t":402,"v":-0.002},{"t":407,"v":0},{"t":412,"v":-0.002},{"t":417,"v":0},{"t":517,"v":0.004},{"t":522,"v":0.006},{"t":527,"v":0.003},{"t":532,"v":0.005},{"t":537,"v":0.004},{"t":542,"v":0.002},{"t":547,"v":0.004},{"t":552,"v":0.002},{"t":557,"v":0.004},{"t":562,"v":0.001},{"t":567,"v":0.003},{"t":572,"v":0.004},{"t":577,"v":0.001},{"t":582,"v":0.002},{"t":587,"v":0.001},{"t":592,"v":0.003},{"t":597,"v":0},{"t":602,"v":0.002},{"t":607,"v":0.003},{"t":612,"v":0.001},{"t":617,"v":0.002},{"t":622,"v":0},{"t":627,"v":0.002},{"t":632,"v":-0.001},{"t":637,"v":0.001},{"t":642,"v":0.002},{"t":647,"v":0},{"t":652,"v":0.001},{"t":657,"v":-0.001},{"t":662,"v":0.001},{"t":667,"v":-0.001},{"t":672,"v":0.001},{"t":677,"v":0},{"t":682,"v":-0.002},{"t":687,"v":0},{"t":692,"v":0.001},{"t":697,"v":-0.001}]
},
"columns":3,
"align":"each",
"bounds":"flush",
"spacing":{"row":23,"column":89},
"concat":[
{"width":111,"height":236,"data":{"values":[{"s":"WT","ln":0},{"s":"(LT2)","ln":1}]},"mark":{"type":"text","font":"Liberation Sans","fontSize":25,"color":"#1a1a1a"},"encoding":{"text":{"field":"s","type":"nominal"},"x":{"datum":0.56,"type":"quantitative","scale":{"domain":[0,1],"nice":false,"zero":false},"axis":null},"y":{"field":"ln","type":"quantitative","scale":{"domain":[4.567,-3.3],"nice":false,"zero":false},"axis":null}}},
{"width":262,"height":236,"title":{"text":"Cystine"},"layer":[
{"data":{"name":"zero"},"mark":{"type":"rule","color":"#b3b3b3","strokeWidth":1.2},"encoding":{"y":{"field":"v","type":"quantitative"}}},
{"data":{"name":"arr"},"transform":[{"filter":"datum.p == 'A'"}],"mark":{"type":"rule","color":"#8a8a8a","strokeWidth":1.3},"encoding":{"x":{"field":"t","type":"quantitative"},"y":{"field":"v","type":"quantitative"},"y2":{"field":"v2"}}},
{"data":{"name":"arr"},"transform":[{"filter":"datum.p == 'A'"}],"mark":{"type":"point","filled":true,"size":50,"color":"#333","opacity":1},"encoding":{"x":{"field":"t","type":"quantitative"},"y":{"field":"v2","type":"quantitative"},"shape":{"field":"dir","type":"nominal","scale":{"domain":["up","down"],"range":["triangle-up","triangle-down"]},"legend":null}}},
{"data":{"name":"A"},"mark":{"type":"circle","size":28,"color":"#111","opacity":1},"encoding":{"x":{"field":"t","type":"quantitative","scale":{"domain":[-66,853],"nice":false,"zero":false},"axis":{"values":[0,200,400,600,800],"tickCount":12,"format":"d","domain":false,"ticks":false,"tickSize":0,"labelPadding":0,"labelBaseline":"middle","labelFlush":false,"labelOverlap":false,"offset":-21,"title":null}},"y":{"field":"v","type":"quantitative","scale":{"domain":[-0.0466,0.0474],"nice":false,"zero":false},"axis":{"values":[-0.04,-0.02,0,0.02,0.04],"tickCount":12,"labelExpr":"datum.value < 0 ? '-' + format(-datum.value, '.2f') : format(datum.value, '.2f')","labelOverlap":false,"title":"ΔFRET","titlePadding":10,"tickSize":4,"labelPadding":2,"domainColor":"#999","tickColor":"#999"}}}}
]},
{"width":245,"height":236,"title":{"text":"Cysteine"},"layer":[
{"data":{"name":"zero"},"mark":{"type":"rule","color":"#b3b3b3","strokeWidth":1.2},"encoding":{"y":{"field":"v","type":"quantitative"}}},
{"data":{"name":"arr"},"transform":[{"filter":"datum.p == 'B'"}],"mark":{"type":"rule","color":"#8a8a8a","strokeWidth":1.3},"encoding":{"x":{"field":"t","type":"quantitative"},"y":{"field":"v","type":"quantitative"},"y2":{"field":"v2"}}},
{"data":{"name":"arr"},"transform":[{"filter":"datum.p == 'B'"}],"mark":{"type":"point","filled":true,"size":50,"color":"#333","opacity":1},"encoding":{"x":{"field":"t","type":"quantitative"},"y":{"field":"v2","type":"quantitative"},"shape":{"field":"dir","type":"nominal","scale":{"domain":["up","down"],"range":["triangle-up","triangle-down"]},"legend":null}}},
{"data":{"name":"B"},"mark":{"type":"circle","size":28,"color":"#111","opacity":1},"encoding":{"x":{"field":"t","type":"quantitative","scale":{"domain":[-44,722],"nice":false,"zero":false},"axis":{"values":[0,200,400,600],"tickCount":12,"format":"d","domain":false,"ticks":false,"tickSize":0,"labelPadding":0,"labelBaseline":"middle","labelFlush":false,"labelOverlap":false,"offset":-21,"title":null}},"y":{"field":"v","type":"quantitative","scale":{"domain":[-0.0466,0.0482],"nice":false,"zero":false},"axis":{"values":[-0.04,-0.02,0,0.02,0.04],"tickCount":12,"labelExpr":"datum.value < 0 ? '-' + format(-datum.value, '.2f') : format(datum.value, '.2f')","labelOverlap":false,"title":null,"tickSize":4,"labelPadding":2,"domainColor":"#999","tickColor":"#999"}}}}
]},
{"width":111,"height":236,"data":{"values":[{"s":"ΔcheR","ln":0},{"s":"ΔcheB","ln":1}]},"mark":{"type":"text","font":"Liberation Sans","fontSize":25,"fontStyle":"italic","color":"#1a1a1a"},"encoding":{"text":{"field":"s","type":"nominal"},"x":{"datum":0.51,"type":"quantitative","scale":{"domain":[0,1],"nice":false,"zero":false},"axis":null},"y":{"field":"ln","type":"quantitative","scale":{"domain":[3.469,-3.906],"nice":false,"zero":false},"axis":null}}},
{"width":262,"height":236,"layer":[
{"data":{"name":"zero"},"mark":{"type":"rule","color":"#b3b3b3","strokeWidth":1.2},"encoding":{"y":{"field":"v","type":"quantitative"}}},
{"data":{"name":"arr"},"transform":[{"filter":"datum.p == 'C'"}],"mark":{"type":"rule","color":"#8a8a8a","strokeWidth":1.3},"encoding":{"x":{"field":"t","type":"quantitative"},"y":{"field":"v","type":"quantitative"},"y2":{"field":"v2"}}},
{"data":{"name":"arr"},"transform":[{"filter":"datum.p == 'C'"}],"mark":{"type":"point","filled":true,"size":50,"color":"#333","opacity":1},"encoding":{"x":{"field":"t","type":"quantitative"},"y":{"field":"v2","type":"quantitative"},"shape":{"field":"dir","type":"nominal","scale":{"domain":["up","down"],"range":["triangle-up","triangle-down"]},"legend":null}}},
{"data":{"name":"C"},"mark":{"type":"circle","size":28,"color":"#111","opacity":1},"encoding":{"x":{"field":"t","type":"quantitative","scale":{"domain":[-53,874],"nice":false,"zero":false},"axis":{"values":[0,200,400,600,800],"tickCount":12,"format":"d","domain":false,"ticks":false,"tickSize":0,"labelPadding":0,"labelBaseline":"middle","labelFlush":false,"labelOverlap":false,"offset":-22,"title":null}},"y":{"field":"v","type":"quantitative","scale":{"domain":[-0.0462,0.0478],"nice":false,"zero":false},"axis":{"values":[-0.04,-0.02,0,0.02,0.04],"tickCount":12,"labelExpr":"datum.value < 0 ? '-' + format(-datum.value, '.2f') : format(datum.value, '.2f')","labelOverlap":false,"title":"ΔFRET","titlePadding":10,"tickSize":4,"labelPadding":2,"domainColor":"#999","tickColor":"#999"}}}}
]},
{"width":245,"height":236,"layer":[
{"data":{"name":"zero"},"mark":{"type":"rule","color":"#b3b3b3","strokeWidth":1.2},"encoding":{"y":{"field":"v","type":"quantitative"}}},
{"data":{"name":"arr"},"transform":[{"filter":"datum.p == 'D'"}],"mark":{"type":"rule","color":"#8a8a8a","strokeWidth":1.3},"encoding":{"x":{"field":"t","type":"quantitative"},"y":{"field":"v","type":"quantitative"},"y2":{"field":"v2"}}},
{"data":{"name":"arr"},"transform":[{"filter":"datum.p == 'D'"}],"mark":{"type":"point","filled":true,"size":50,"color":"#333","opacity":1},"encoding":{"x":{"field":"t","type":"quantitative"},"y":{"field":"v2","type":"quantitative"},"shape":{"field":"dir","type":"nominal","scale":{"domain":["up","down"],"range":["triangle-up","triangle-down"]},"legend":null}}},
{"data":{"name":"D"},"mark":{"type":"circle","size":28,"color":"#111","opacity":1},"encoding":{"x":{"field":"t","type":"quantitative","scale":{"domain":[-44,722],"nice":false,"zero":false},"axis":{"values":[0,200,400,600],"tickCount":12,"format":"d","domain":false,"ticks":false,"tickSize":0,"labelPadding":0,"labelBaseline":"middle","labelFlush":false,"labelOverlap":false,"offset":-150,"title":null}},"y":{"field":"v","type":"quantitative","scale":{"domain":[-0.1252,0.011],"nice":false,"zero":false},"axis":{"values":[-0.12,-0.1,-0.08,-0.06,-0.04,-0.02,0],"tickCount":12,"labelExpr":"datum.value < 0 ? '-' + format(-datum.value, '.2f') : format(datum.value, '.2f')","labelOverlap":false,"title":null,"tickSize":4,"labelPadding":2,"domainColor":"#999","tickColor":"#999"}}}}
]},
{"width":111,"height":236,"data":{"values":[{"s":"ΔcheV","ln":0}]},"mark":{"type":"text","font":"Liberation Sans","fontSize":25,"fontStyle":"italic","color":"#1a1a1a"},"encoding":{"text":{"field":"s","type":"nominal"},"x":{"datum":0.51,"type":"quantitative","scale":{"domain":[0,1],"nice":false,"zero":false},"axis":null},"y":{"field":"ln","type":"quantitative","scale":{"domain":[5.367,-2.5],"nice":false,"zero":false},"axis":null}}},
{"width":262,"height":236,"layer":[
{"data":{"name":"zero"},"mark":{"type":"rule","color":"#b3b3b3","strokeWidth":1.2},"encoding":{"y":{"field":"v","type":"quantitative"}}},
{"data":{"name":"arr"},"transform":[{"filter":"datum.p == 'E'"}],"mark":{"type":"rule","color":"#8a8a8a","strokeWidth":1.3},"encoding":{"x":{"field":"t","type":"quantitative"},"y":{"field":"v","type":"quantitative"},"y2":{"field":"v2"}}},
{"data":{"name":"arr"},"transform":[{"filter":"datum.p == 'E'"}],"mark":{"type":"point","filled":true,"size":50,"color":"#333","opacity":1},"encoding":{"x":{"field":"t","type":"quantitative"},"y":{"field":"v2","type":"quantitative"},"shape":{"field":"dir","type":"nominal","scale":{"domain":["up","down"],"range":["triangle-up","triangle-down"]},"legend":null}}},
{"data":{"name":"E"},"mark":{"type":"circle","size":28,"color":"#111","opacity":1},"encoding":{"x":{"field":"t","type":"quantitative","scale":{"domain":[-50,882],"nice":false,"zero":false},"axis":{"values":[0,200,400,600,800],"tickCount":12,"format":"d","domain":false,"ticks":false,"tickSize":0,"labelPadding":0,"labelBaseline":"middle","labelFlush":false,"labelOverlap":false,"offset":-23,"title":"time (s)","titleFontStyle":"normal","titleY":60,"titleBaseline":"alphabetic"}},"y":{"field":"v","type":"quantitative","scale":{"domain":[-0.0455,0.0479],"nice":false,"zero":false},"axis":{"values":[-0.04,-0.02,0,0.02,0.04],"tickCount":12,"labelExpr":"datum.value < 0 ? '-' + format(-datum.value, '.2f') : format(datum.value, '.2f')","labelOverlap":false,"title":"ΔFRET","titlePadding":10,"tickSize":4,"labelPadding":2,"domainColor":"#999","tickColor":"#999"}}}}
]},
{"width":245,"height":236,"layer":[
{"data":{"name":"zero"},"mark":{"type":"rule","color":"#b3b3b3","strokeWidth":1.2},"encoding":{"y":{"field":"v","type":"quantitative"}}},
{"data":{"name":"arr"},"transform":[{"filter":"datum.p == 'F'"}],"mark":{"type":"rule","color":"#8a8a8a","strokeWidth":1.3},"encoding":{"x":{"field":"t","type":"quantitative"},"y":{"field":"v","type":"quantitative"},"y2":{"field":"v2"}}},
{"data":{"name":"arr"},"transform":[{"filter":"datum.p == 'F'"}],"mark":{"type":"point","filled":true,"size":50,"color":"#333","opacity":1},"encoding":{"x":{"field":"t","type":"quantitative"},"y":{"field":"v2","type":"quantitative"},"shape":{"field":"dir","type":"nominal","scale":{"domain":["up","down"],"range":["triangle-up","triangle-down"]},"legend":null}}},
{"data":{"name":"F"},"mark":{"type":"circle","size":28,"color":"#111","opacity":1},"encoding":{"x":{"field":"t","type":"quantitative","scale":{"domain":[-44,722],"nice":false,"zero":false},"axis":{"values":[0,200,400,600],"tickCount":12,"format":"d","domain":false,"ticks":false,"tickSize":0,"labelPadding":0,"labelBaseline":"middle","labelFlush":false,"labelOverlap":false,"offset":-19,"title":"time (s)","titleFontStyle":"normal","titleY":56,"titleBaseline":"alphabetic"}},"y":{"field":"v","type":"quantitative","scale":{"domain":[-0.0452,0.0492],"nice":false,"zero":false},"axis":{"values":[-0.04,-0.02,0,0.02,0.04],"tickCount":12,"labelExpr":"datum.value < 0 ? '-' + format(-datum.value, '.2f') : format(datum.value, '.2f')","labelOverlap":false,"title":null,"tickSize":4,"labelPadding":2,"domainColor":"#999","tickColor":"#999"}}}}
]}
]
}
